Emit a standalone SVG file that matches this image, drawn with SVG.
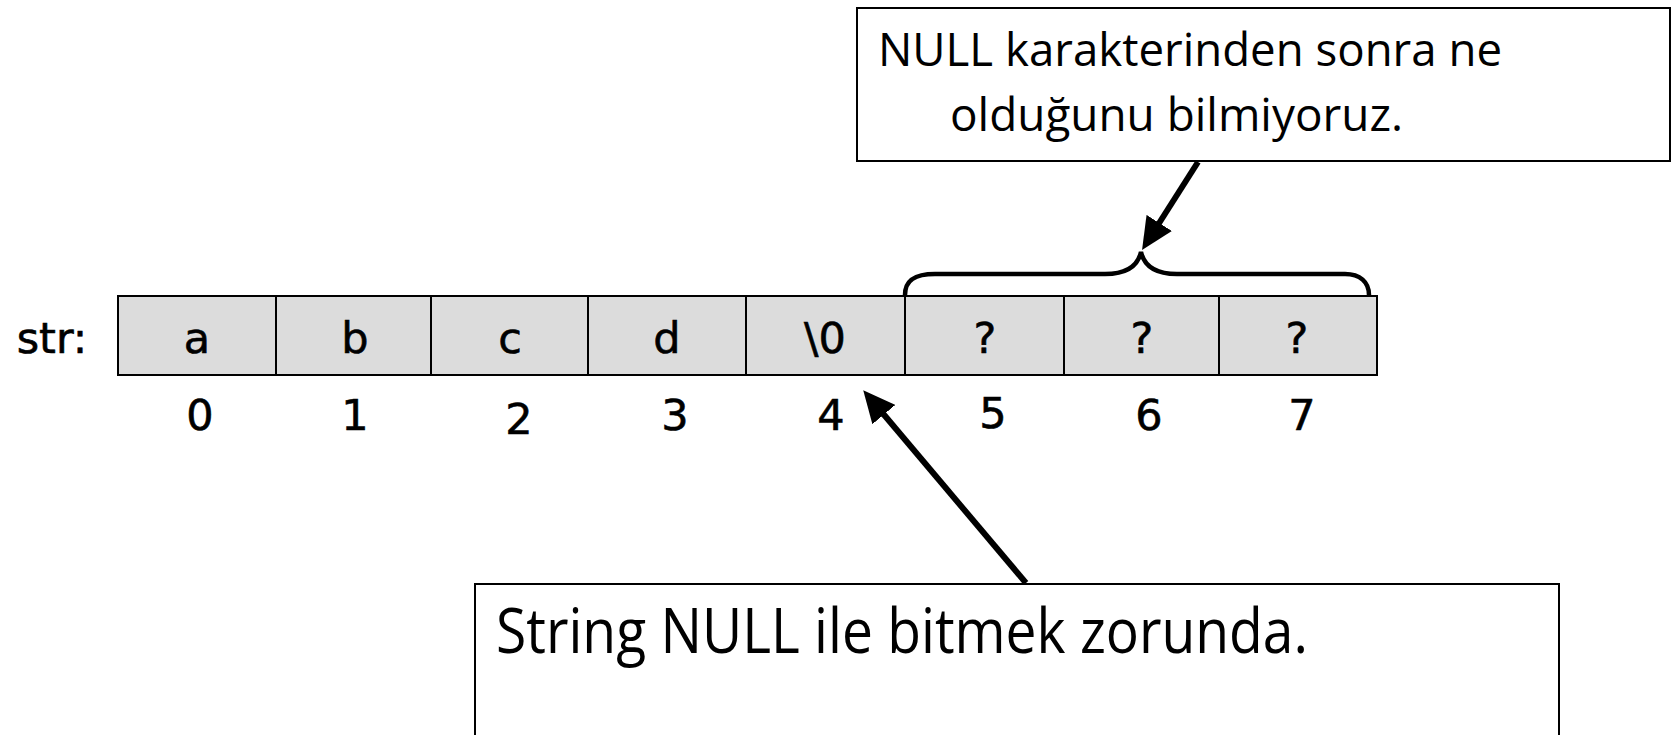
<svg xmlns="http://www.w3.org/2000/svg" width="1679" height="735" viewBox="0 0 1679 735">
<style>
.cell{fill:#dcdcdc;stroke:#000;stroke-width:2}
.ct{font-family:"DejaVu Sans",sans-serif;font-size:43px;text-anchor:middle;fill:#000;stroke:#000;stroke-width:0.6}
.box{fill:#fff;stroke:#000;stroke-width:2}
.bt{font-family:"Open Sans","Noto Sans",sans-serif;fill:#000}
.conn{stroke:#000;stroke-width:6;fill:none}
.brc{stroke:#000;stroke-width:4.5;fill:none}
</style>
<defs>
<marker id="ah" markerUnits="userSpaceOnUse" markerWidth="34" markerHeight="30" refX="6" refY="15" orient="auto">
<path d="M0,0 L32,15 L0,30 Z" fill="#000"/>
</marker>
</defs>
<rect width="1679" height="735" fill="#fff"/>
<g id="label-str"><text class="ct" x="52" y="353" font-size="46">str:</text></g>
<g id="array">
<g id="cell0"><rect class="cell" x="118" y="296" width="158" height="79"/><text class="ct" x="197" y="353">a</text><text class="ct" x="200" y="430">0</text></g>
<g id="cell1"><rect class="cell" x="276" y="296" width="155" height="79"/><text class="ct" x="355" y="353">b</text><text class="ct" x="355" y="430">1</text></g>
<g id="cell2"><rect class="cell" x="431" y="296" width="157" height="79"/><text class="ct" x="510" y="353">c</text><text class="ct" x="519" y="434">2</text></g>
<g id="cell3"><rect class="cell" x="588" y="296" width="158" height="79"/><text class="ct" x="667" y="353">d</text><text class="ct" x="675" y="430">3</text></g>
<g id="cell4"><rect class="cell" x="746" y="296" width="159" height="79"/><text class="ct" x="825" y="353">\0</text><text class="ct" x="831" y="430">4</text></g>
<g id="cell5"><rect class="cell" x="905" y="296" width="159" height="79"/><text class="ct" x="985" y="353">?</text><text class="ct" x="993" y="428">5</text></g>
<g id="cell6"><rect class="cell" x="1064" y="296" width="155" height="79"/><text class="ct" x="1142" y="353">?</text><text class="ct" x="1149" y="430">6</text></g>
<g id="cell7"><rect class="cell" x="1219" y="296" width="158" height="79"/><text class="ct" x="1297" y="353">?</text><text class="ct" x="1302" y="430">7</text></g>
</g>
<g id="brace"><path class="brc" d="M905,295 C905,280 915,274 935,274 L1105,274 C1128,274 1138,265 1141,252 C1144,265 1154,274 1177,274 L1345,274 C1360,274 1369,282 1369,295"/></g>
<g id="note-top"><rect class="box" x="857" y="8" width="813" height="153"/>
<text class="bt" font-size="46" x="878" y="66" textLength="624" lengthAdjust="spacingAndGlyphs">NULL karakterinden sonra ne</text>
<text class="bt" font-size="46" x="950" y="131" textLength="453" lengthAdjust="spacingAndGlyphs">olduğunu bilmiyoruz.</text></g>
<g id="note-bottom"><rect class="box" x="475" y="584" width="1084" height="170"/>
<text class="bt" font-size="62" x="496" y="653" textLength="812" lengthAdjust="spacingAndGlyphs">String NULL ile bitmek zorunda.</text></g>
<g id="connectors">
<line class="conn" x1="1198" y1="162" x2="1156" y2="228" marker-end="url(#ah)"/>
<line class="conn" x1="1026" y1="583" x2="880" y2="410" marker-end="url(#ah)"/>
</g>
</svg>
